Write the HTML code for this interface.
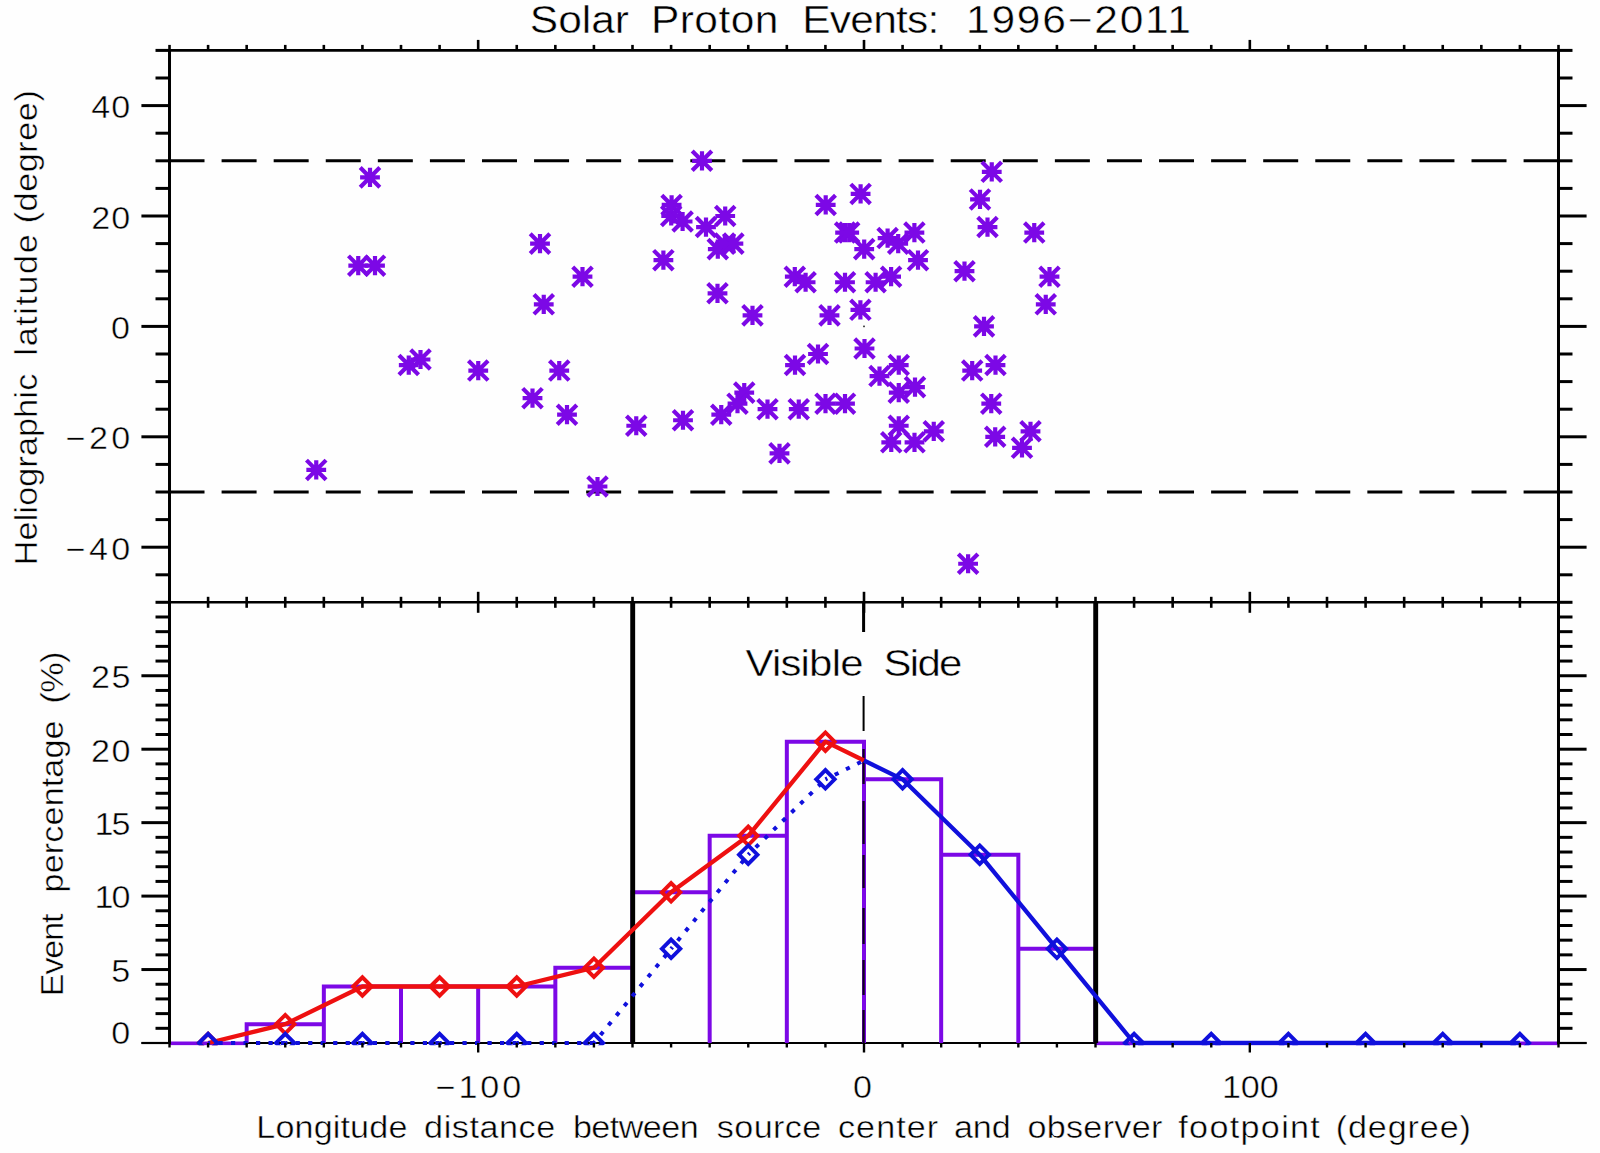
<!DOCTYPE html>
<html lang="en"><head><meta charset="utf-8"><title>Solar Proton Events: 1996-2011</title>
<style>html,body{margin:0;padding:0;background:#fff;}svg{display:block;}text{font-family:"Liberation Sans", sans-serif;fill:#000;stroke:#fefefe;stroke-width:0.45px;}</style></head><body>
<svg width="1600" height="1153" viewBox="0 0 1600 1153">
<rect width="1600" height="1153" fill="#fefefe"/>
<defs><g id="s"><path d="M-9.9 0H9.9M0 -9.6V9.6M-9.8 -9.8L9.8 9.8M-9.8 9.8L9.8 -9.8" stroke="#7c08e6" stroke-width="4.2" fill="none"/></g>
<clipPath id="cb"><rect x="168.0" y="602.3" width="1392.0" height="442.9"/></clipPath></defs>
<line x1="169.51" y1="160.80" x2="1558.49" y2="160.80" stroke="#000" stroke-width="3" stroke-dasharray="35 17.08"/>
<line x1="169.51" y1="492.00" x2="1558.49" y2="492.00" stroke="#000" stroke-width="3" stroke-dasharray="35 17.08"/>
<rect x="863.2" y="325.6" width="1.6" height="1.6" fill="#222"/>
<g><use href="#s" x="370.00" y="177.36"/><use href="#s" x="358.25" y="265.68"/><use href="#s" x="375.00" y="265.68"/><use href="#s" x="540.00" y="243.60"/><use href="#s" x="582.50" y="276.72"/><use href="#s" x="543.75" y="304.32"/><use href="#s" x="408.75" y="365.04"/><use href="#s" x="420.50" y="359.52"/><use href="#s" x="478.25" y="370.56"/><use href="#s" x="559.25" y="370.56"/><use href="#s" x="532.50" y="398.16"/><use href="#s" x="567.00" y="414.72"/><use href="#s" x="663.40" y="260.16"/><use href="#s" x="316.25" y="469.92"/><use href="#s" x="636.25" y="425.76"/><use href="#s" x="597.50" y="486.48"/><use href="#s" x="683.00" y="420.24"/><use href="#s" x="702.00" y="160.80"/><use href="#s" x="991.75" y="171.84"/><use href="#s" x="860.60" y="193.92"/><use href="#s" x="825.70" y="204.96"/><use href="#s" x="980.00" y="199.44"/><use href="#s" x="987.50" y="227.04"/><use href="#s" x="671.60" y="204.96"/><use href="#s" x="671.20" y="216.00"/><use href="#s" x="682.60" y="221.52"/><use href="#s" x="706.00" y="227.04"/><use href="#s" x="725.20" y="216.00"/><use href="#s" x="717.80" y="249.12"/><use href="#s" x="724.80" y="243.60"/><use href="#s" x="733.40" y="243.60"/><use href="#s" x="717.50" y="293.28"/><use href="#s" x="752.50" y="315.36"/><use href="#s" x="845.10" y="232.56"/><use href="#s" x="849.20" y="232.56"/><use href="#s" x="864.20" y="249.12"/><use href="#s" x="887.60" y="238.08"/><use href="#s" x="898.20" y="243.60"/><use href="#s" x="914.40" y="232.56"/><use href="#s" x="918.00" y="260.16"/><use href="#s" x="964.50" y="271.20"/><use href="#s" x="794.80" y="276.72"/><use href="#s" x="805.60" y="282.24"/><use href="#s" x="845.00" y="282.24"/><use href="#s" x="875.60" y="282.24"/><use href="#s" x="891.10" y="276.72"/><use href="#s" x="829.50" y="315.36"/><use href="#s" x="860.40" y="309.84"/><use href="#s" x="984.00" y="326.40"/><use href="#s" x="864.50" y="348.48"/><use href="#s" x="818.00" y="354.00"/><use href="#s" x="795.00" y="365.04"/><use href="#s" x="898.75" y="365.04"/><use href="#s" x="879.50" y="376.08"/><use href="#s" x="972.20" y="370.56"/><use href="#s" x="995.50" y="365.04"/><use href="#s" x="915.00" y="387.12"/><use href="#s" x="898.75" y="392.64"/><use href="#s" x="991.25" y="403.68"/><use href="#s" x="744.25" y="392.64"/><use href="#s" x="737.50" y="403.68"/><use href="#s" x="767.50" y="409.20"/><use href="#s" x="798.75" y="409.20"/><use href="#s" x="825.50" y="403.68"/><use href="#s" x="845.00" y="403.68"/><use href="#s" x="721.25" y="414.72"/><use href="#s" x="779.50" y="453.36"/><use href="#s" x="898.75" y="425.76"/><use href="#s" x="891.25" y="442.32"/><use href="#s" x="914.50" y="442.32"/><use href="#s" x="933.75" y="431.28"/><use href="#s" x="995.20" y="436.80"/><use href="#s" x="1022.00" y="447.84"/><use href="#s" x="968.10" y="563.76"/><use href="#s" x="1034.25" y="232.56"/><use href="#s" x="1049.50" y="276.72"/><use href="#s" x="1045.75" y="304.32"/><use href="#s" x="1030.50" y="431.28"/></g>
<line x1="141.51" y1="1043.00" x2="1586.49" y2="1043.00" stroke="#000" stroke-width="2.2"/>
<g clip-path="url(#cb)">
<path d="M246.67 1043.00L246.67 1024.17L323.84 1024.17L323.84 1043.00M323.84 1043.00L323.84 986.50L401.00 986.50L401.00 1043.00M401.00 1043.00L401.00 986.50L478.17 986.50L478.17 1043.00M478.17 1043.00L478.17 986.50L555.34 986.50L555.34 1043.00M555.34 1043.00L555.34 967.67L632.50 967.67L632.50 1043.00M632.50 1043.00L632.50 892.33L709.67 892.33L709.67 1043.00M709.67 1043.00L709.67 835.83L786.83 835.83L786.83 1043.00M786.83 1043.00L786.83 741.67L864.00 741.67L864.00 1043.00M864.00 1043.00L864.00 779.33L941.17 779.33L941.17 1043.00M941.17 1043.00L941.17 854.67L1018.33 854.67L1018.33 1043.00M1018.33 1043.00L1018.33 948.83L1095.50 948.83L1095.50 1043.00" fill="none" stroke="#7c08e6" stroke-width="4" stroke-linejoin="miter"/>
<line x1="169.51" y1="1043.40" x2="246.67" y2="1043.40" stroke="#7c08e6" stroke-width="4"/>
<line x1="1095.50" y1="1043.40" x2="1558.49" y2="1043.40" stroke="#7c08e6" stroke-width="4"/>
<line x1="632.70" y1="602.30" x2="632.70" y2="1043.00" stroke="#000" stroke-width="4.9"/>
<line x1="1095.70" y1="602.30" x2="1095.70" y2="1043.00" stroke="#000" stroke-width="4.9"/>
<line x1="863.60" y1="602.30" x2="863.60" y2="632" stroke="#000" stroke-width="3"/>
<line x1="863.60" y1="696" x2="863.60" y2="731" stroke="#000" stroke-width="2"/>
<line x1="863.60" y1="749" x2="863.60" y2="784" stroke="#12001f" stroke-width="2.3"/>
<line x1="863.60" y1="801" x2="863.60" y2="844" stroke="#12001f" stroke-width="2.3"/>
<line x1="863.60" y1="855" x2="863.60" y2="888" stroke="#12001f" stroke-width="2.3"/>
<line x1="863.60" y1="908" x2="863.60" y2="944" stroke="#12001f" stroke-width="2.3"/>
<line x1="863.60" y1="960" x2="863.60" y2="995" stroke="#12001f" stroke-width="2.3"/>
<line x1="863.60" y1="1010" x2="863.60" y2="1044" stroke="#12001f" stroke-width="2.3"/>
<polyline points="208.09,1043.00 285.25,1024.17 362.42,986.50 439.59,986.50 516.75,986.50 593.92,967.67 671.09,892.33 748.25,835.83 825.42,741.67 864.00,760.50" fill="none" stroke="#ee1010" stroke-width="4.3" stroke-linejoin="round"/>
<path d="M198.89 1043.00L208.09 1033.80L217.29 1043.00L208.09 1052.20Z" fill="none" stroke="#ee1010" stroke-width="3.9"/>
<path d="M276.06 1024.17L285.25 1014.97L294.45 1024.17L285.25 1033.37Z" fill="none" stroke="#ee1010" stroke-width="3.9"/>
<path d="M353.22 986.50L362.42 977.30L371.62 986.50L362.42 995.70Z" fill="none" stroke="#ee1010" stroke-width="3.9"/>
<path d="M430.39 986.50L439.59 977.30L448.79 986.50L439.59 995.70Z" fill="none" stroke="#ee1010" stroke-width="3.9"/>
<path d="M507.55 986.50L516.75 977.30L525.95 986.50L516.75 995.70Z" fill="none" stroke="#ee1010" stroke-width="3.9"/>
<path d="M584.72 967.67L593.92 958.47L603.12 967.67L593.92 976.87Z" fill="none" stroke="#ee1010" stroke-width="3.9"/>
<path d="M661.88 892.33L671.09 883.13L680.29 892.33L671.09 901.53Z" fill="none" stroke="#ee1010" stroke-width="3.9"/>
<path d="M739.05 835.83L748.25 826.63L757.45 835.83L748.25 845.03Z" fill="none" stroke="#ee1010" stroke-width="3.9"/>
<path d="M816.22 741.67L825.42 732.47L834.62 741.67L825.42 750.87Z" fill="none" stroke="#ee1010" stroke-width="3.9"/>
<line x1="208.09" y1="1043.00" x2="285.25" y2="1043.00" stroke="#1010dc" stroke-width="4" stroke-dasharray="4.2 8.3" stroke-dashoffset="2.1"/>
<line x1="285.25" y1="1043.00" x2="362.42" y2="1043.00" stroke="#1010dc" stroke-width="4" stroke-dasharray="4.2 8.3" stroke-dashoffset="2.1"/>
<line x1="362.42" y1="1043.00" x2="439.59" y2="1043.00" stroke="#1010dc" stroke-width="4" stroke-dasharray="4.2 8.3" stroke-dashoffset="2.1"/>
<line x1="439.59" y1="1043.00" x2="516.75" y2="1043.00" stroke="#1010dc" stroke-width="4" stroke-dasharray="4.2 8.3" stroke-dashoffset="2.1"/>
<line x1="516.75" y1="1043.00" x2="593.92" y2="1043.00" stroke="#1010dc" stroke-width="4" stroke-dasharray="4.2 8.3" stroke-dashoffset="2.1"/>
<line x1="593.92" y1="1043.00" x2="671.09" y2="948.83" stroke="#1010dc" stroke-width="4" stroke-dasharray="4.2 8.3" stroke-dashoffset="2.1"/>
<line x1="671.09" y1="948.83" x2="748.25" y2="854.67" stroke="#1010dc" stroke-width="4" stroke-dasharray="4.2 8.3" stroke-dashoffset="2.1"/>
<line x1="748.25" y1="854.67" x2="825.42" y2="779.33" stroke="#1010dc" stroke-width="4" stroke-dasharray="4.2 8.3" stroke-dashoffset="2.1"/>
<line x1="825.42" y1="779.33" x2="864.00" y2="760.50" stroke="#1010dc" stroke-width="4" stroke-dasharray="4.2 8.3" stroke-dashoffset="2.1"/>
<path d="M198.89 1043.00L208.09 1033.80L217.29 1043.00L208.09 1052.20Z" fill="none" stroke="#1010dc" stroke-width="3.9"/>
<path d="M276.06 1043.00L285.25 1033.80L294.45 1043.00L285.25 1052.20Z" fill="none" stroke="#1010dc" stroke-width="3.9"/>
<path d="M353.22 1043.00L362.42 1033.80L371.62 1043.00L362.42 1052.20Z" fill="none" stroke="#1010dc" stroke-width="3.9"/>
<path d="M430.39 1043.00L439.59 1033.80L448.79 1043.00L439.59 1052.20Z" fill="none" stroke="#1010dc" stroke-width="3.9"/>
<path d="M507.55 1043.00L516.75 1033.80L525.95 1043.00L516.75 1052.20Z" fill="none" stroke="#1010dc" stroke-width="3.9"/>
<path d="M584.72 1043.00L593.92 1033.80L603.12 1043.00L593.92 1052.20Z" fill="none" stroke="#1010dc" stroke-width="3.9"/>
<path d="M661.88 948.83L671.09 939.63L680.29 948.83L671.09 958.03Z" fill="none" stroke="#1010dc" stroke-width="3.9"/>
<path d="M739.05 854.67L748.25 845.47L757.45 854.67L748.25 863.87Z" fill="none" stroke="#1010dc" stroke-width="3.9"/>
<path d="M816.22 779.33L825.42 770.13L834.62 779.33L825.42 788.53Z" fill="none" stroke="#1010dc" stroke-width="3.9"/>
<polyline points="864.00,760.50 902.58,779.33 979.75,854.67 1056.91,948.83 1134.08,1043.00 1211.25,1043.00 1288.41,1043.00 1365.58,1043.00 1442.74,1043.00 1519.91,1043.00" fill="none" stroke="#1010dc" stroke-width="4.3" stroke-linejoin="round"/>
<path d="M893.38 779.33L902.58 770.13L911.78 779.33L902.58 788.53Z" fill="none" stroke="#1010dc" stroke-width="3.9"/>
<path d="M970.55 854.67L979.75 845.47L988.95 854.67L979.75 863.87Z" fill="none" stroke="#1010dc" stroke-width="3.9"/>
<path d="M1047.71 948.83L1056.91 939.63L1066.12 948.83L1056.91 958.03Z" fill="none" stroke="#1010dc" stroke-width="3.9"/>
<path d="M1124.88 1043.00L1134.08 1033.80L1143.28 1043.00L1134.08 1052.20Z" fill="none" stroke="#1010dc" stroke-width="3.9"/>
<path d="M1202.05 1043.00L1211.25 1033.80L1220.45 1043.00L1211.25 1052.20Z" fill="none" stroke="#1010dc" stroke-width="3.9"/>
<path d="M1279.21 1043.00L1288.41 1033.80L1297.61 1043.00L1288.41 1052.20Z" fill="none" stroke="#1010dc" stroke-width="3.9"/>
<path d="M1356.38 1043.00L1365.58 1033.80L1374.78 1043.00L1365.58 1052.20Z" fill="none" stroke="#1010dc" stroke-width="3.9"/>
<path d="M1433.54 1043.00L1442.74 1033.80L1451.94 1043.00L1442.74 1052.20Z" fill="none" stroke="#1010dc" stroke-width="3.9"/>
<path d="M1510.71 1043.00L1519.91 1033.80L1529.11 1043.00L1519.91 1052.20Z" fill="none" stroke="#1010dc" stroke-width="3.9"/>
</g>
<line x1="169.51" y1="48.90" x2="169.51" y2="1044.00" stroke="#000" stroke-width="3"/>
<line x1="1558.49" y1="48.90" x2="1558.49" y2="1044.00" stroke="#000" stroke-width="3"/>
<line x1="169.51" y1="50.40" x2="1558.49" y2="50.40" stroke="#000" stroke-width="2.8"/>
<line x1="169.51" y1="602.30" x2="1558.49" y2="602.30" stroke="#000" stroke-width="2.6"/>
<line x1="155.51" y1="574.80" x2="169.51" y2="574.80" stroke="#000" stroke-width="3"/>
<line x1="1558.49" y1="574.80" x2="1572.49" y2="574.80" stroke="#000" stroke-width="3"/>
<line x1="141.41" y1="547.20" x2="169.51" y2="547.20" stroke="#000" stroke-width="3"/>
<line x1="1558.49" y1="547.20" x2="1586.59" y2="547.20" stroke="#000" stroke-width="3"/>
<line x1="155.51" y1="519.60" x2="169.51" y2="519.60" stroke="#000" stroke-width="3"/>
<line x1="1558.49" y1="519.60" x2="1572.49" y2="519.60" stroke="#000" stroke-width="3"/>
<line x1="155.51" y1="492.00" x2="169.51" y2="492.00" stroke="#000" stroke-width="3"/>
<line x1="1558.49" y1="492.00" x2="1572.49" y2="492.00" stroke="#000" stroke-width="3"/>
<line x1="155.51" y1="464.40" x2="169.51" y2="464.40" stroke="#000" stroke-width="3"/>
<line x1="1558.49" y1="464.40" x2="1572.49" y2="464.40" stroke="#000" stroke-width="3"/>
<line x1="141.41" y1="436.80" x2="169.51" y2="436.80" stroke="#000" stroke-width="3"/>
<line x1="1558.49" y1="436.80" x2="1586.59" y2="436.80" stroke="#000" stroke-width="3"/>
<line x1="155.51" y1="409.20" x2="169.51" y2="409.20" stroke="#000" stroke-width="3"/>
<line x1="1558.49" y1="409.20" x2="1572.49" y2="409.20" stroke="#000" stroke-width="3"/>
<line x1="155.51" y1="381.60" x2="169.51" y2="381.60" stroke="#000" stroke-width="3"/>
<line x1="1558.49" y1="381.60" x2="1572.49" y2="381.60" stroke="#000" stroke-width="3"/>
<line x1="155.51" y1="354.00" x2="169.51" y2="354.00" stroke="#000" stroke-width="3"/>
<line x1="1558.49" y1="354.00" x2="1572.49" y2="354.00" stroke="#000" stroke-width="3"/>
<line x1="141.41" y1="326.40" x2="169.51" y2="326.40" stroke="#000" stroke-width="3"/>
<line x1="1558.49" y1="326.40" x2="1586.59" y2="326.40" stroke="#000" stroke-width="3"/>
<line x1="155.51" y1="298.80" x2="169.51" y2="298.80" stroke="#000" stroke-width="3"/>
<line x1="1558.49" y1="298.80" x2="1572.49" y2="298.80" stroke="#000" stroke-width="3"/>
<line x1="155.51" y1="271.20" x2="169.51" y2="271.20" stroke="#000" stroke-width="3"/>
<line x1="1558.49" y1="271.20" x2="1572.49" y2="271.20" stroke="#000" stroke-width="3"/>
<line x1="155.51" y1="243.60" x2="169.51" y2="243.60" stroke="#000" stroke-width="3"/>
<line x1="1558.49" y1="243.60" x2="1572.49" y2="243.60" stroke="#000" stroke-width="3"/>
<line x1="141.41" y1="216.00" x2="169.51" y2="216.00" stroke="#000" stroke-width="3"/>
<line x1="1558.49" y1="216.00" x2="1586.59" y2="216.00" stroke="#000" stroke-width="3"/>
<line x1="155.51" y1="188.40" x2="169.51" y2="188.40" stroke="#000" stroke-width="3"/>
<line x1="1558.49" y1="188.40" x2="1572.49" y2="188.40" stroke="#000" stroke-width="3"/>
<line x1="155.51" y1="160.80" x2="169.51" y2="160.80" stroke="#000" stroke-width="3"/>
<line x1="1558.49" y1="160.80" x2="1572.49" y2="160.80" stroke="#000" stroke-width="3"/>
<line x1="155.51" y1="133.20" x2="169.51" y2="133.20" stroke="#000" stroke-width="3"/>
<line x1="1558.49" y1="133.20" x2="1572.49" y2="133.20" stroke="#000" stroke-width="3"/>
<line x1="141.41" y1="105.60" x2="169.51" y2="105.60" stroke="#000" stroke-width="3"/>
<line x1="1558.49" y1="105.60" x2="1586.59" y2="105.60" stroke="#000" stroke-width="3"/>
<line x1="155.51" y1="78.00" x2="169.51" y2="78.00" stroke="#000" stroke-width="3"/>
<line x1="1558.49" y1="78.00" x2="1572.49" y2="78.00" stroke="#000" stroke-width="3"/>
<line x1="155.51" y1="50.40" x2="169.51" y2="50.40" stroke="#000" stroke-width="3"/>
<line x1="1558.49" y1="50.40" x2="1572.49" y2="50.40" stroke="#000" stroke-width="3"/>
<line x1="141.41" y1="1043.00" x2="169.51" y2="1043.00" stroke="#000" stroke-width="2.2"/>
<line x1="1558.49" y1="1043.00" x2="1586.59" y2="1043.00" stroke="#000" stroke-width="2.2"/>
<line x1="155.51" y1="1028.31" x2="169.51" y2="1028.31" stroke="#000" stroke-width="3"/>
<line x1="1558.49" y1="1028.31" x2="1572.49" y2="1028.31" stroke="#000" stroke-width="3"/>
<line x1="155.51" y1="1013.62" x2="169.51" y2="1013.62" stroke="#000" stroke-width="3"/>
<line x1="1558.49" y1="1013.62" x2="1572.49" y2="1013.62" stroke="#000" stroke-width="3"/>
<line x1="155.51" y1="998.93" x2="169.51" y2="998.93" stroke="#000" stroke-width="3"/>
<line x1="1558.49" y1="998.93" x2="1572.49" y2="998.93" stroke="#000" stroke-width="3"/>
<line x1="155.51" y1="984.24" x2="169.51" y2="984.24" stroke="#000" stroke-width="3"/>
<line x1="1558.49" y1="984.24" x2="1572.49" y2="984.24" stroke="#000" stroke-width="3"/>
<line x1="141.41" y1="969.55" x2="169.51" y2="969.55" stroke="#000" stroke-width="3"/>
<line x1="1558.49" y1="969.55" x2="1586.59" y2="969.55" stroke="#000" stroke-width="3"/>
<line x1="155.51" y1="954.86" x2="169.51" y2="954.86" stroke="#000" stroke-width="3"/>
<line x1="1558.49" y1="954.86" x2="1572.49" y2="954.86" stroke="#000" stroke-width="3"/>
<line x1="155.51" y1="940.17" x2="169.51" y2="940.17" stroke="#000" stroke-width="3"/>
<line x1="1558.49" y1="940.17" x2="1572.49" y2="940.17" stroke="#000" stroke-width="3"/>
<line x1="155.51" y1="925.48" x2="169.51" y2="925.48" stroke="#000" stroke-width="3"/>
<line x1="1558.49" y1="925.48" x2="1572.49" y2="925.48" stroke="#000" stroke-width="3"/>
<line x1="155.51" y1="910.79" x2="169.51" y2="910.79" stroke="#000" stroke-width="3"/>
<line x1="1558.49" y1="910.79" x2="1572.49" y2="910.79" stroke="#000" stroke-width="3"/>
<line x1="141.41" y1="896.10" x2="169.51" y2="896.10" stroke="#000" stroke-width="3"/>
<line x1="1558.49" y1="896.10" x2="1586.59" y2="896.10" stroke="#000" stroke-width="3"/>
<line x1="155.51" y1="881.41" x2="169.51" y2="881.41" stroke="#000" stroke-width="3"/>
<line x1="1558.49" y1="881.41" x2="1572.49" y2="881.41" stroke="#000" stroke-width="3"/>
<line x1="155.51" y1="866.72" x2="169.51" y2="866.72" stroke="#000" stroke-width="3"/>
<line x1="1558.49" y1="866.72" x2="1572.49" y2="866.72" stroke="#000" stroke-width="3"/>
<line x1="155.51" y1="852.03" x2="169.51" y2="852.03" stroke="#000" stroke-width="3"/>
<line x1="1558.49" y1="852.03" x2="1572.49" y2="852.03" stroke="#000" stroke-width="3"/>
<line x1="155.51" y1="837.34" x2="169.51" y2="837.34" stroke="#000" stroke-width="3"/>
<line x1="1558.49" y1="837.34" x2="1572.49" y2="837.34" stroke="#000" stroke-width="3"/>
<line x1="141.41" y1="822.65" x2="169.51" y2="822.65" stroke="#000" stroke-width="3"/>
<line x1="1558.49" y1="822.65" x2="1586.59" y2="822.65" stroke="#000" stroke-width="3"/>
<line x1="155.51" y1="807.96" x2="169.51" y2="807.96" stroke="#000" stroke-width="3"/>
<line x1="1558.49" y1="807.96" x2="1572.49" y2="807.96" stroke="#000" stroke-width="3"/>
<line x1="155.51" y1="793.27" x2="169.51" y2="793.27" stroke="#000" stroke-width="3"/>
<line x1="1558.49" y1="793.27" x2="1572.49" y2="793.27" stroke="#000" stroke-width="3"/>
<line x1="155.51" y1="778.58" x2="169.51" y2="778.58" stroke="#000" stroke-width="3"/>
<line x1="1558.49" y1="778.58" x2="1572.49" y2="778.58" stroke="#000" stroke-width="3"/>
<line x1="155.51" y1="763.89" x2="169.51" y2="763.89" stroke="#000" stroke-width="3"/>
<line x1="1558.49" y1="763.89" x2="1572.49" y2="763.89" stroke="#000" stroke-width="3"/>
<line x1="141.41" y1="749.20" x2="169.51" y2="749.20" stroke="#000" stroke-width="3"/>
<line x1="1558.49" y1="749.20" x2="1586.59" y2="749.20" stroke="#000" stroke-width="3"/>
<line x1="155.51" y1="734.51" x2="169.51" y2="734.51" stroke="#000" stroke-width="3"/>
<line x1="1558.49" y1="734.51" x2="1572.49" y2="734.51" stroke="#000" stroke-width="3"/>
<line x1="155.51" y1="719.82" x2="169.51" y2="719.82" stroke="#000" stroke-width="3"/>
<line x1="1558.49" y1="719.82" x2="1572.49" y2="719.82" stroke="#000" stroke-width="3"/>
<line x1="155.51" y1="705.13" x2="169.51" y2="705.13" stroke="#000" stroke-width="3"/>
<line x1="1558.49" y1="705.13" x2="1572.49" y2="705.13" stroke="#000" stroke-width="3"/>
<line x1="155.51" y1="690.44" x2="169.51" y2="690.44" stroke="#000" stroke-width="3"/>
<line x1="1558.49" y1="690.44" x2="1572.49" y2="690.44" stroke="#000" stroke-width="3"/>
<line x1="141.41" y1="675.75" x2="169.51" y2="675.75" stroke="#000" stroke-width="3"/>
<line x1="1558.49" y1="675.75" x2="1586.59" y2="675.75" stroke="#000" stroke-width="3"/>
<line x1="155.51" y1="661.06" x2="169.51" y2="661.06" stroke="#000" stroke-width="3"/>
<line x1="1558.49" y1="661.06" x2="1572.49" y2="661.06" stroke="#000" stroke-width="3"/>
<line x1="155.51" y1="646.37" x2="169.51" y2="646.37" stroke="#000" stroke-width="3"/>
<line x1="1558.49" y1="646.37" x2="1572.49" y2="646.37" stroke="#000" stroke-width="3"/>
<line x1="155.51" y1="631.68" x2="169.51" y2="631.68" stroke="#000" stroke-width="3"/>
<line x1="1558.49" y1="631.68" x2="1572.49" y2="631.68" stroke="#000" stroke-width="3"/>
<line x1="155.51" y1="616.99" x2="169.51" y2="616.99" stroke="#000" stroke-width="3"/>
<line x1="1558.49" y1="616.99" x2="1572.49" y2="616.99" stroke="#000" stroke-width="3"/>
<line x1="155.51" y1="602.30" x2="169.51" y2="602.30" stroke="#000" stroke-width="3"/>
<line x1="1558.49" y1="602.30" x2="1572.49" y2="602.30" stroke="#000" stroke-width="3"/>
<line x1="169.51" y1="44.90" x2="169.51" y2="50.40" stroke="#000" stroke-width="2.6"/>
<line x1="169.51" y1="596.80" x2="169.51" y2="607.80" stroke="#000" stroke-width="2.6"/>
<line x1="169.51" y1="1043.00" x2="169.51" y2="1047.50" stroke="#000" stroke-width="2.4"/>
<line x1="208.09" y1="44.90" x2="208.09" y2="50.40" stroke="#000" stroke-width="2.6"/>
<line x1="208.09" y1="596.80" x2="208.09" y2="607.80" stroke="#000" stroke-width="2.6"/>
<line x1="208.09" y1="1043.00" x2="208.09" y2="1047.50" stroke="#000" stroke-width="2.4"/>
<line x1="246.67" y1="44.90" x2="246.67" y2="50.40" stroke="#000" stroke-width="2.6"/>
<line x1="246.67" y1="596.80" x2="246.67" y2="607.80" stroke="#000" stroke-width="2.6"/>
<line x1="246.67" y1="1043.00" x2="246.67" y2="1047.50" stroke="#000" stroke-width="2.4"/>
<line x1="285.25" y1="44.90" x2="285.25" y2="50.40" stroke="#000" stroke-width="2.6"/>
<line x1="285.25" y1="596.80" x2="285.25" y2="607.80" stroke="#000" stroke-width="2.6"/>
<line x1="285.25" y1="1043.00" x2="285.25" y2="1047.50" stroke="#000" stroke-width="2.4"/>
<line x1="323.84" y1="44.90" x2="323.84" y2="50.40" stroke="#000" stroke-width="2.6"/>
<line x1="323.84" y1="596.80" x2="323.84" y2="607.80" stroke="#000" stroke-width="2.6"/>
<line x1="323.84" y1="1043.00" x2="323.84" y2="1047.50" stroke="#000" stroke-width="2.4"/>
<line x1="362.42" y1="44.90" x2="362.42" y2="50.40" stroke="#000" stroke-width="2.6"/>
<line x1="362.42" y1="596.80" x2="362.42" y2="607.80" stroke="#000" stroke-width="2.6"/>
<line x1="362.42" y1="1043.00" x2="362.42" y2="1047.50" stroke="#000" stroke-width="2.4"/>
<line x1="401.00" y1="44.90" x2="401.00" y2="50.40" stroke="#000" stroke-width="2.6"/>
<line x1="401.00" y1="596.80" x2="401.00" y2="607.80" stroke="#000" stroke-width="2.6"/>
<line x1="401.00" y1="1043.00" x2="401.00" y2="1047.50" stroke="#000" stroke-width="2.4"/>
<line x1="439.59" y1="44.90" x2="439.59" y2="50.40" stroke="#000" stroke-width="2.6"/>
<line x1="439.59" y1="596.80" x2="439.59" y2="607.80" stroke="#000" stroke-width="2.6"/>
<line x1="439.59" y1="1043.00" x2="439.59" y2="1047.50" stroke="#000" stroke-width="2.4"/>
<line x1="478.17" y1="39.90" x2="478.17" y2="50.40" stroke="#000" stroke-width="2.6"/>
<line x1="478.17" y1="591.80" x2="478.17" y2="612.80" stroke="#000" stroke-width="2.6"/>
<line x1="478.17" y1="1043.00" x2="478.17" y2="1052.50" stroke="#000" stroke-width="2.4"/>
<line x1="516.75" y1="44.90" x2="516.75" y2="50.40" stroke="#000" stroke-width="2.6"/>
<line x1="516.75" y1="596.80" x2="516.75" y2="607.80" stroke="#000" stroke-width="2.6"/>
<line x1="516.75" y1="1043.00" x2="516.75" y2="1047.50" stroke="#000" stroke-width="2.4"/>
<line x1="555.34" y1="44.90" x2="555.34" y2="50.40" stroke="#000" stroke-width="2.6"/>
<line x1="555.34" y1="596.80" x2="555.34" y2="607.80" stroke="#000" stroke-width="2.6"/>
<line x1="555.34" y1="1043.00" x2="555.34" y2="1047.50" stroke="#000" stroke-width="2.4"/>
<line x1="593.92" y1="44.90" x2="593.92" y2="50.40" stroke="#000" stroke-width="2.6"/>
<line x1="593.92" y1="596.80" x2="593.92" y2="607.80" stroke="#000" stroke-width="2.6"/>
<line x1="593.92" y1="1043.00" x2="593.92" y2="1047.50" stroke="#000" stroke-width="2.4"/>
<line x1="632.50" y1="44.90" x2="632.50" y2="50.40" stroke="#000" stroke-width="2.6"/>
<line x1="632.50" y1="596.80" x2="632.50" y2="607.80" stroke="#000" stroke-width="2.6"/>
<line x1="632.50" y1="1043.00" x2="632.50" y2="1047.50" stroke="#000" stroke-width="2.4"/>
<line x1="671.09" y1="44.90" x2="671.09" y2="50.40" stroke="#000" stroke-width="2.6"/>
<line x1="671.09" y1="596.80" x2="671.09" y2="607.80" stroke="#000" stroke-width="2.6"/>
<line x1="671.09" y1="1043.00" x2="671.09" y2="1047.50" stroke="#000" stroke-width="2.4"/>
<line x1="709.67" y1="44.90" x2="709.67" y2="50.40" stroke="#000" stroke-width="2.6"/>
<line x1="709.67" y1="596.80" x2="709.67" y2="607.80" stroke="#000" stroke-width="2.6"/>
<line x1="709.67" y1="1043.00" x2="709.67" y2="1047.50" stroke="#000" stroke-width="2.4"/>
<line x1="748.25" y1="44.90" x2="748.25" y2="50.40" stroke="#000" stroke-width="2.6"/>
<line x1="748.25" y1="596.80" x2="748.25" y2="607.80" stroke="#000" stroke-width="2.6"/>
<line x1="748.25" y1="1043.00" x2="748.25" y2="1047.50" stroke="#000" stroke-width="2.4"/>
<line x1="786.83" y1="44.90" x2="786.83" y2="50.40" stroke="#000" stroke-width="2.6"/>
<line x1="786.83" y1="596.80" x2="786.83" y2="607.80" stroke="#000" stroke-width="2.6"/>
<line x1="786.83" y1="1043.00" x2="786.83" y2="1047.50" stroke="#000" stroke-width="2.4"/>
<line x1="825.42" y1="44.90" x2="825.42" y2="50.40" stroke="#000" stroke-width="2.6"/>
<line x1="825.42" y1="596.80" x2="825.42" y2="607.80" stroke="#000" stroke-width="2.6"/>
<line x1="825.42" y1="1043.00" x2="825.42" y2="1047.50" stroke="#000" stroke-width="2.4"/>
<line x1="864.00" y1="39.90" x2="864.00" y2="50.40" stroke="#000" stroke-width="2.6"/>
<line x1="864.00" y1="591.80" x2="864.00" y2="612.80" stroke="#000" stroke-width="2.6"/>
<line x1="864.00" y1="1043.00" x2="864.00" y2="1052.50" stroke="#000" stroke-width="2.4"/>
<line x1="902.58" y1="44.90" x2="902.58" y2="50.40" stroke="#000" stroke-width="2.6"/>
<line x1="902.58" y1="596.80" x2="902.58" y2="607.80" stroke="#000" stroke-width="2.6"/>
<line x1="902.58" y1="1043.00" x2="902.58" y2="1047.50" stroke="#000" stroke-width="2.4"/>
<line x1="941.17" y1="44.90" x2="941.17" y2="50.40" stroke="#000" stroke-width="2.6"/>
<line x1="941.17" y1="596.80" x2="941.17" y2="607.80" stroke="#000" stroke-width="2.6"/>
<line x1="941.17" y1="1043.00" x2="941.17" y2="1047.50" stroke="#000" stroke-width="2.4"/>
<line x1="979.75" y1="44.90" x2="979.75" y2="50.40" stroke="#000" stroke-width="2.6"/>
<line x1="979.75" y1="596.80" x2="979.75" y2="607.80" stroke="#000" stroke-width="2.6"/>
<line x1="979.75" y1="1043.00" x2="979.75" y2="1047.50" stroke="#000" stroke-width="2.4"/>
<line x1="1018.33" y1="44.90" x2="1018.33" y2="50.40" stroke="#000" stroke-width="2.6"/>
<line x1="1018.33" y1="596.80" x2="1018.33" y2="607.80" stroke="#000" stroke-width="2.6"/>
<line x1="1018.33" y1="1043.00" x2="1018.33" y2="1047.50" stroke="#000" stroke-width="2.4"/>
<line x1="1056.91" y1="44.90" x2="1056.91" y2="50.40" stroke="#000" stroke-width="2.6"/>
<line x1="1056.91" y1="596.80" x2="1056.91" y2="607.80" stroke="#000" stroke-width="2.6"/>
<line x1="1056.91" y1="1043.00" x2="1056.91" y2="1047.50" stroke="#000" stroke-width="2.4"/>
<line x1="1095.50" y1="44.90" x2="1095.50" y2="50.40" stroke="#000" stroke-width="2.6"/>
<line x1="1095.50" y1="596.80" x2="1095.50" y2="607.80" stroke="#000" stroke-width="2.6"/>
<line x1="1095.50" y1="1043.00" x2="1095.50" y2="1047.50" stroke="#000" stroke-width="2.4"/>
<line x1="1134.08" y1="44.90" x2="1134.08" y2="50.40" stroke="#000" stroke-width="2.6"/>
<line x1="1134.08" y1="596.80" x2="1134.08" y2="607.80" stroke="#000" stroke-width="2.6"/>
<line x1="1134.08" y1="1043.00" x2="1134.08" y2="1047.50" stroke="#000" stroke-width="2.4"/>
<line x1="1172.66" y1="44.90" x2="1172.66" y2="50.40" stroke="#000" stroke-width="2.6"/>
<line x1="1172.66" y1="596.80" x2="1172.66" y2="607.80" stroke="#000" stroke-width="2.6"/>
<line x1="1172.66" y1="1043.00" x2="1172.66" y2="1047.50" stroke="#000" stroke-width="2.4"/>
<line x1="1211.25" y1="44.90" x2="1211.25" y2="50.40" stroke="#000" stroke-width="2.6"/>
<line x1="1211.25" y1="596.80" x2="1211.25" y2="607.80" stroke="#000" stroke-width="2.6"/>
<line x1="1211.25" y1="1043.00" x2="1211.25" y2="1047.50" stroke="#000" stroke-width="2.4"/>
<line x1="1249.83" y1="39.90" x2="1249.83" y2="50.40" stroke="#000" stroke-width="2.6"/>
<line x1="1249.83" y1="591.80" x2="1249.83" y2="612.80" stroke="#000" stroke-width="2.6"/>
<line x1="1249.83" y1="1043.00" x2="1249.83" y2="1052.50" stroke="#000" stroke-width="2.4"/>
<line x1="1288.41" y1="44.90" x2="1288.41" y2="50.40" stroke="#000" stroke-width="2.6"/>
<line x1="1288.41" y1="596.80" x2="1288.41" y2="607.80" stroke="#000" stroke-width="2.6"/>
<line x1="1288.41" y1="1043.00" x2="1288.41" y2="1047.50" stroke="#000" stroke-width="2.4"/>
<line x1="1327.00" y1="44.90" x2="1327.00" y2="50.40" stroke="#000" stroke-width="2.6"/>
<line x1="1327.00" y1="596.80" x2="1327.00" y2="607.80" stroke="#000" stroke-width="2.6"/>
<line x1="1327.00" y1="1043.00" x2="1327.00" y2="1047.50" stroke="#000" stroke-width="2.4"/>
<line x1="1365.58" y1="44.90" x2="1365.58" y2="50.40" stroke="#000" stroke-width="2.6"/>
<line x1="1365.58" y1="596.80" x2="1365.58" y2="607.80" stroke="#000" stroke-width="2.6"/>
<line x1="1365.58" y1="1043.00" x2="1365.58" y2="1047.50" stroke="#000" stroke-width="2.4"/>
<line x1="1404.16" y1="44.90" x2="1404.16" y2="50.40" stroke="#000" stroke-width="2.6"/>
<line x1="1404.16" y1="596.80" x2="1404.16" y2="607.80" stroke="#000" stroke-width="2.6"/>
<line x1="1404.16" y1="1043.00" x2="1404.16" y2="1047.50" stroke="#000" stroke-width="2.4"/>
<line x1="1442.74" y1="44.90" x2="1442.74" y2="50.40" stroke="#000" stroke-width="2.6"/>
<line x1="1442.74" y1="596.80" x2="1442.74" y2="607.80" stroke="#000" stroke-width="2.6"/>
<line x1="1442.74" y1="1043.00" x2="1442.74" y2="1047.50" stroke="#000" stroke-width="2.4"/>
<line x1="1481.33" y1="44.90" x2="1481.33" y2="50.40" stroke="#000" stroke-width="2.6"/>
<line x1="1481.33" y1="596.80" x2="1481.33" y2="607.80" stroke="#000" stroke-width="2.6"/>
<line x1="1481.33" y1="1043.00" x2="1481.33" y2="1047.50" stroke="#000" stroke-width="2.4"/>
<line x1="1519.91" y1="44.90" x2="1519.91" y2="50.40" stroke="#000" stroke-width="2.6"/>
<line x1="1519.91" y1="596.80" x2="1519.91" y2="607.80" stroke="#000" stroke-width="2.6"/>
<line x1="1519.91" y1="1043.00" x2="1519.91" y2="1047.50" stroke="#000" stroke-width="2.4"/>
<line x1="1558.49" y1="44.90" x2="1558.49" y2="50.40" stroke="#000" stroke-width="2.6"/>
<line x1="1558.49" y1="596.80" x2="1558.49" y2="607.80" stroke="#000" stroke-width="2.6"/>
<line x1="1558.49" y1="1043.00" x2="1558.49" y2="1047.50" stroke="#000" stroke-width="2.4"/>
<text transform="translate(529.8 33.0) scale(1.12 1)" font-size="38" textLength="88.6" lengthAdjust="spacing">Solar</text>
<text transform="translate(651.0 33.0) scale(1.12 1)" font-size="38" textLength="113.8" lengthAdjust="spacing">Proton</text>
<text transform="translate(802.2 33.0) scale(1.12 1)" font-size="38" textLength="122.5" lengthAdjust="spacing">Events:</text>
<text transform="translate(966.0 33.0) scale(1.12 1)" font-size="38" textLength="200.9" lengthAdjust="spacing">1996−2011</text>
<text transform="translate(91.3 118.2) scale(1.12 1)" font-size="30.5" textLength="34.8" lengthAdjust="spacing">40</text>
<text transform="translate(91.3 228.6) scale(1.12 1)" font-size="30.5" textLength="34.8" lengthAdjust="spacing">20</text>
<text transform="translate(130.0 339.0) scale(1.12 1)" font-size="30.5" text-anchor="end">0</text>
<text transform="translate(65.7 449.4) scale(1.12 1)" font-size="30.5" textLength="57.7" lengthAdjust="spacing">−20</text>
<text transform="translate(65.7 559.8) scale(1.12 1)" font-size="30.5" textLength="57.7" lengthAdjust="spacing">−40</text>
<text transform="translate(91.0 688.0) scale(1.12 1)" font-size="30.5" textLength="35.3" lengthAdjust="spacing">25</text>
<text transform="translate(91.0 761.5) scale(1.12 1)" font-size="30.5" textLength="35.3" lengthAdjust="spacing">20</text>
<text transform="translate(94.5 834.9) scale(1.12 1)" font-size="30.5" textLength="32.1" lengthAdjust="spacing">15</text>
<text transform="translate(94.5 908.4) scale(1.12 1)" font-size="30.5" textLength="32.1" lengthAdjust="spacing">10</text>
<text transform="translate(130.2 981.8) scale(1.12 1)" font-size="30.5" text-anchor="end">5</text>
<text transform="translate(130.2 1043.8) scale(1.12 1)" font-size="30.5" text-anchor="end">0</text>
<text transform="translate(435.7 1098.3) scale(1.12 1)" font-size="30.5" textLength="76.3" lengthAdjust="spacing">−100</text>
<text transform="translate(862.6 1098.3) scale(1.12 1)" font-size="30.5" text-anchor="middle">0</text>
<text transform="translate(1221.9 1098.3) scale(1.12 1)" font-size="30.5" textLength="50.7" lengthAdjust="spacing">100</text>
<text transform="translate(256.3 1137.8) scale(1.12 1)" font-size="30.5" textLength="134.9" lengthAdjust="spacing">Longitude</text>
<text transform="translate(424.1 1137.8) scale(1.12 1)" font-size="30.5" textLength="117.1" lengthAdjust="spacing">distance</text>
<text transform="translate(572.9 1137.8) scale(1.12 1)" font-size="30.5" textLength="112.4" lengthAdjust="spacing">between</text>
<text transform="translate(716.8 1137.8) scale(1.12 1)" font-size="30.5" textLength="93.3" lengthAdjust="spacing">source</text>
<text transform="translate(838.0 1137.8) scale(1.12 1)" font-size="30.5" textLength="89.4" lengthAdjust="spacing">center</text>
<text transform="translate(953.9 1137.8) scale(1.12 1)" font-size="30.5" textLength="50.7" lengthAdjust="spacing">and</text>
<text transform="translate(1027.4 1137.8) scale(1.12 1)" font-size="30.5" textLength="120.5" lengthAdjust="spacing">observer</text>
<text transform="translate(1178.3 1137.8) scale(1.12 1)" font-size="30.5" textLength="126.4" lengthAdjust="spacing">footpoint</text>
<text transform="translate(1335.8 1137.8) scale(1.12 1)" font-size="30.5" textLength="120.6" lengthAdjust="spacing">(degree)</text>
<text transform="translate(37.2 565.3) rotate(-90) scale(1.12 1)" font-size="30.5" textLength="171.0" lengthAdjust="spacing">Heliographic</text>
<text transform="translate(37.2 355.4) rotate(-90) scale(1.12 1)" font-size="30.5" textLength="108.1" lengthAdjust="spacing">latitude</text>
<text transform="translate(37.2 223.3) rotate(-90) scale(1.12 1)" font-size="30.5" textLength="118.8" lengthAdjust="spacing">(degree)</text>
<text transform="translate(62.8 996.2) rotate(-90) scale(1.12 1)" font-size="30.5" textLength="73.8" lengthAdjust="spacing">Event</text>
<text transform="translate(62.8 892.4) rotate(-90) scale(1.12 1)" font-size="30.5" textLength="153.6" lengthAdjust="spacing">percentage</text>
<text transform="translate(62.8 703.4) rotate(-90) scale(1.12 1)" font-size="30.5" textLength="46.2" lengthAdjust="spacing">(%)</text>
<text transform="translate(745.5 676.0) scale(1.12 1)" font-size="37.5" textLength="105.4" lengthAdjust="spacing">Visible</text>
<text transform="translate(883.5 676.0) scale(1.12 1)" font-size="37.5" textLength="70.5" lengthAdjust="spacing">Side</text>
</svg></body></html>
